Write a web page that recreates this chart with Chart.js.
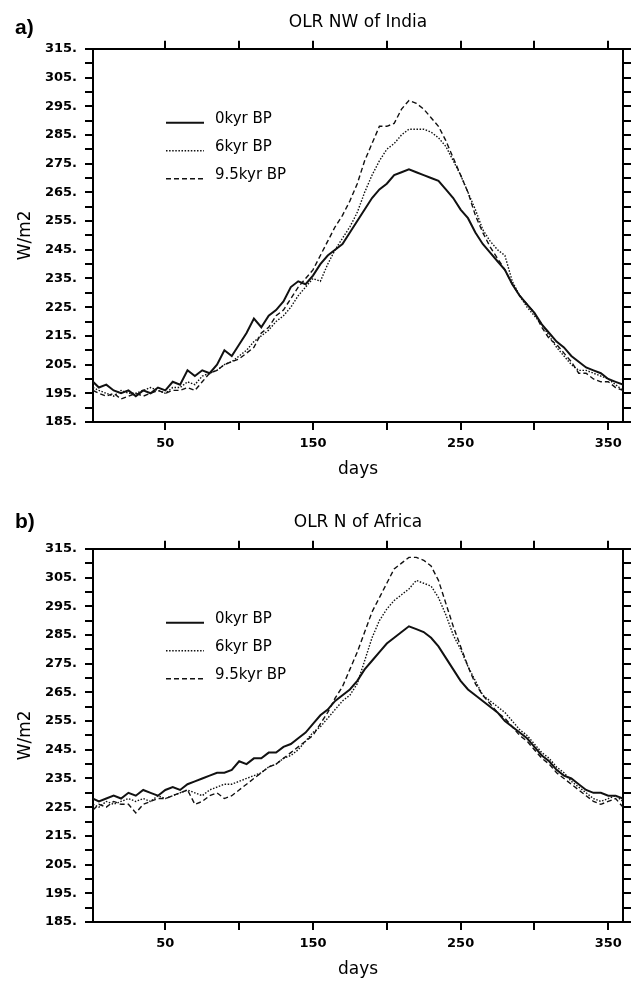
<!DOCTYPE html>
<html>
<head>
<meta charset="utf-8">
<script src="https://cdn.jsdelivr.net/npm/chart.js@4.4.1/dist/chart.umd.min.js"></script>
<style>
  html, body { margin: 0; padding: 0; background: #fff; overflow: hidden; }
  canvas { position: absolute; left: 0; }
  #panelA { top: 0; }
  #panelB { top: 500px; }
</style>
</head>
<body>
<canvas id="panelA" width="636" height="490"></canvas>
<canvas id="panelB" width="636" height="490"></canvas>
<script>
// day of year (360 day calendar), sampled every 5 days
var days = [1,5,10,15,20,25,30,35,40,45,50,55,60,65,70,75,80,85,90,95,100,105,110,115,120,125,130,135,140,145,150,155,160,165,170,175,180,185,190,195,200,205,210,215,220,225,230,235,240,245,250,255,260,265,270,275,280,285,290,295,300,305,310,315,320,325,330,335,340,345,350,355,360];

var xTicks = [50, 100, 150, 200, 250, 300, 350];
var xLabels = [50, 150, 250, 350];

var seriesNames = ['0kyr BP', '6kyr BP', '9.5kyr BP'];

// a) OLR NW of India
var india0 = [199,197,198,196,195,196,194,196,195,197,196,199,198,203,201,203,202,205,210,208,212,216,221,218,222,224,227,232,234,233,236,240,243,245,247,251,255,259,263,266,268,271,272,273,272,271,270,269,266,263,259,256,251,247,244,241,238,233,229,226,223,219,216,213,211,208,206,204,203,202,200,199,198];
var india6 = [197,196,195,194,196,195,195,196,197,196,195,197,197,199,198,201,202,203,205,206,208,210,213,215,217,220,222,225,229,232,235,234,240,245,249,253,258,265,271,276,280,282,285,287,287,287,286,284,281,276,271,265,259,252,248,245,243,234,229,225,222,219,215,211,208,205,203,203,202,201,200,198,196];
var india95 = [196,195,194,195,193,194,195,194,195,196,195,196,196,197,196,199,202,203,205,206,207,209,211,216,218,222,224,228,232,235,238,243,248,253,257,262,268,276,282,288,288,289,294,297,296,294,291,288,283,277,271,265,257,251,246,242,238,233,229,226,223,218,214,212,209,206,202,202,200,199,199,197,196];

// b) OLR N of Africa
var africa0 = [228,227,228,229,228,230,229,231,230,229,231,232,231,233,234,235,236,237,237,238,241,240,242,242,244,244,246,247,249,251,254,257,259,262,264,266,269,273,276,279,282,284,286,288,287,286,284,281,277,273,269,266,264,262,260,258,255,253,251,249,246,243,241,238,236,235,233,231,230,230,229,229,228];
var africa6 = [226,225,227,226,227,228,227,228,227,229,228,229,230,231,230,229,231,232,233,233,234,235,236,237,239,240,242,243,245,248,251,253,256,259,262,264,268,276,284,290,294,297,299,301,304,303,302,298,292,285,280,274,269,264,262,260,258,255,252,250,247,244,242,239,237,234,232,230,228,227,228,229,227];
var africa95 = [224,226,225,227,226,226,223,226,227,228,228,229,230,231,226,227,229,230,228,229,231,233,235,237,239,240,242,244,246,248,250,254,258,263,267,273,279,286,293,298,303,308,310,312,312,311,309,304,296,288,281,274,268,264,261,258,256,253,250,248,245,242,240,237,235,233,231,229,227,226,227,228,225];

var textFont = '"DejaVu Sans"';

// legend drawn inside the plot, top left
var insideLegend = {
  id: 'insideLegend',
  afterDatasetsDraw: function(chart) {
    var ctx = chart.ctx, area = chart.chartArea;
    ctx.save();
    chart.data.datasets.forEach(function(ds, i) {
      var y = area.top + 74 + i * 28;
      ctx.beginPath();
      ctx.setLineDash(ds.borderDash || []);
      ctx.lineWidth = ds.borderWidth;
      ctx.strokeStyle = ds.borderColor;
      ctx.moveTo(area.left + 73, y);
      ctx.lineTo(area.left + 111, y);
      ctx.stroke();
      ctx.setLineDash([]);
      ctx.font = '15px ' + textFont;
      ctx.fillStyle = '#000';
      ctx.textBaseline = 'middle';
      ctx.textAlign = 'left';
      ctx.fillText(ds.label, area.left + 122, y - 4);
    });
    ctx.restore();
  }
};

// "a)" / "b)" panel letter
var panelLetter = {
  id: 'panelLetter',
  afterDraw: function(chart, args, opts) {
    var ctx = chart.ctx;
    ctx.save();
    ctx.font = 'bold 21px "Liberation Sans"';
    ctx.fillStyle = '#000';
    ctx.textBaseline = 'middle';
    ctx.textAlign = 'left';
    ctx.fillText(opts.text, 15, opts.y);
    ctx.restore();
  }
};

function setXTicks(scale) {
  scale.ticks = xTicks.map(function(v) { return { value: v }; });
}

function makeSeries(label, values, width, dash) {
  return {
    label: label,
    data: days.map(function(d, i) { return { x: d, y: values[i] }; }),
    borderColor: '#111',
    borderWidth: width,
    borderDash: dash,
    pointRadius: 0,
    tension: 0,
    fill: false
  };
}

function makePanel(id, title, letter, letterY, s0, s6, s95) {
  var frame = { display: true, color: '#000', width: 2 };
  var tickGrid = { drawOnChartArea: false, drawTicks: true, tickLength: 8, color: '#000', lineWidth: 2 };
  var tickFont = { family: textFont, weight: 'bold', size: 13 };

  new Chart(document.getElementById(id), {
    type: 'line',
    data: {
      datasets: [
        makeSeries(seriesNames[0], s0, 2, []),
        makeSeries(seriesNames[1], s6, 1.4, [1.5, 1.6]),
        makeSeries(seriesNames[2], s95, 1.4, [5, 3])
      ]
    },
    options: {
      responsive: false,
      animation: false,
      events: [],
      layout: { padding: 0 },
      scales: {
        x: {
          type: 'linear', position: 'bottom', min: 1, max: 360,
          afterBuildTicks: setXTicks,
          afterFit: function(s) { s.height = 68; },
          border: frame,
          grid: tickGrid,
          ticks: {
            autoSkip: false, maxRotation: 0, padding: 6, color: '#000', font: tickFont,
            callback: function(v) { return xLabels.indexOf(v) >= 0 ? String(v) : ''; }
          },
          title: {
            display: true, text: 'days', color: '#000',
            font: { family: textFont, size: 17 },
            padding: { top: 0, bottom: 10 }
          }
        },
        xTop: {
          type: 'linear', position: 'top', min: 1, max: 360,
          afterBuildTicks: setXTicks,
          afterFit: function(s) { s.height = 16.4; },
          border: frame,
          grid: tickGrid,
          ticks: { display: false }
        },
        y: {
          type: 'linear', position: 'left', min: 185, max: 315,
          afterFit: function(s) { s.width = 93; },
          border: frame,
          grid: tickGrid,
          ticks: {
            stepSize: 5, autoSkip: false, padding: 8, color: '#000', font: tickFont,
            callback: function(v) { return (v - 185) % 10 === 0 ? v + '.' : ''; }
          },
          title: {
            display: true, text: 'W/m2', color: '#000',
            font: { family: textFont, size: 17 },
            padding: { top: 15, bottom: 0 }
          }
        },
        yRight: {
          type: 'linear', position: 'right', min: 185, max: 315,
          afterFit: function(s) { s.width = 13; },
          border: frame,
          grid: tickGrid,
          ticks: { stepSize: 5, display: false }
        }
      },
      plugins: {
        legend: { display: false },
        tooltip: { enabled: false },
        title: {
          display: true, text: title, color: '#000', fullSize: false,
          font: { family: textFont, size: 17, weight: 'normal' },
          padding: { top: 12, bottom: 0 }
        },
        panelLetter: { text: letter, y: letterY }
      }
    },
    plugins: [insideLegend, panelLetter]
  });
}

makePanel('panelA', 'OLR NW of India', 'a)', 28, india0, india6, india95);
makePanel('panelB', 'OLR N of Africa', 'b)', 22, africa0, africa6, africa95);
</script>
</body>
</html>
